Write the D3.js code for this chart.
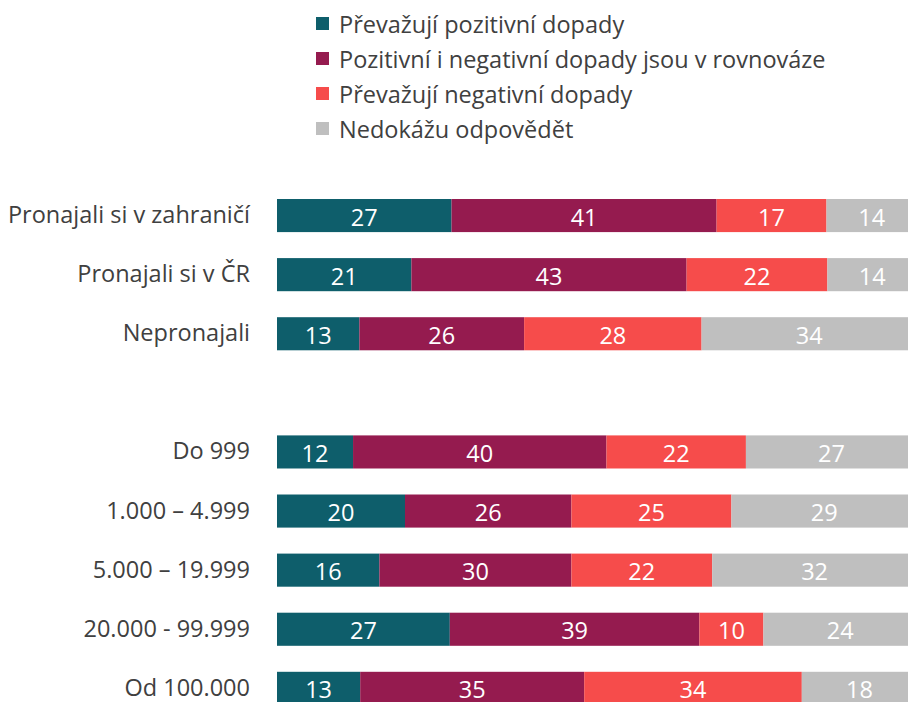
<!DOCTYPE html>
<html>
<head>
<meta charset="utf-8">
<script src="https://cdn.jsdelivr.net/npm/d3@7"></script>
<style>
  body { margin: 0; background: #fff; }
  svg { display: block; font-family: "Open Sans", "Noto Sans", sans-serif; }
</style>
</head>
<body>
<svg width="908" height="702"></svg>
<script>
// categories (blank entry = spacer row between the two groups)
const categories = [
  "Pronajali si v zahraničí",
  "Pronajali si v ČR",
  "Nepronajali",
  " ",
  "Do 999",
  "1.000 – 4.999",
  "5.000 – 19.999",
  "20.000 - 99.999",
  "Od 100.000",
];

const seriesNames = [
  "Převažují pozitivní dopady",
  "Pozitivní i negativní dopady jsou v rovnováze",
  "Převažují negativní dopady",
  "Nedokážu odpovědět",
];

const positive = [27, 21, 13, null, 12, 20, 16, 27, 13];
const balanced = [41, 43, 26, null, 40, 26, 30, 39, 35];
const negative = [17, 22, 28, null, 22, 25, 22, 10, 34];
const dontKnow = [14, 14, 34, null, 27, 29, 32, 24, 18];

const colors = ["#0e5e6b", "#951b4f", "#f64c4b", "#bfbfbf"];

const svg = d3.select("svg");
const fontSize = 23.5;
const dimensions = {
  left: 277,
  barWidth: 640,
  top: 186,
  step: 59.1,
};

// build rows
const rows = categories.map((c, i) => ({
  cat: c,
  values: [positive[i], balanced[i], negative[i], dontKnow[i]],
}));

const xScale = d3
  .scaleLinear()
  .domain([0, 1])
  .range([dimensions.left, dimensions.left + dimensions.barWidth]);

const yScale = d3
  .scaleBand()
  .domain(categories)
  .range([dimensions.top, dimensions.top + dimensions.step * categories.length])
  .paddingInner(0.44)
  .paddingOuter(0.22);

// stacked segments, normalised to the row total
const segments = [];
rows.forEach((r) => {
  if (r.values[0] == null) return;
  const total = d3.sum(r.values);
  let acc = 0;
  r.values.forEach((v, k) => {
    segments.push({ cat: r.cat, key: k, value: v, x0: acc / total, x1: (acc + v) / total });
    acc += v;
  });
});

const bars = svg.append("g");

bars
  .selectAll("rect")
  .data(segments)
  .enter()
  .append("rect")
  .attr("x", (d) => xScale(d.x0))
  .attr("width", (d) => xScale(d.x1) - xScale(d.x0))
  .attr("y", (d) => yScale(d.cat))
  .attr("height", yScale.bandwidth())
  .attr("fill", (d) => colors[d.key]);

bars
  .selectAll("text")
  .data(segments)
  .enter()
  .append("text")
  .attr("x", (d) => (xScale(d.x0) + xScale(d.x1)) / 2)
  .attr("y", (d) => yScale(d.cat) + yScale.bandwidth() / 2 + 1)
  .attr("text-anchor", "middle")
  .attr("dominant-baseline", "central")
  .attr("fill", "#fff")
  .attr("font-size", fontSize)
  .text((d) => d.value);

// category axis
const yAxis = svg
  .append("g")
  .attr("transform", `translate(${dimensions.left},0)`)
  .call(d3.axisLeft(yScale).tickSize(0).tickPadding(27));

yAxis.select(".domain").remove();
yAxis
  .selectAll("text")
  .attr("font-size", fontSize)
  .attr("font-family", "\"Open Sans\", \"Noto Sans\", sans-serif")
  .attr("fill", "#404040");

// legend
const legend = svg
  .append("g")
  .selectAll("g")
  .data(seriesNames)
  .enter()
  .append("g")
  .attr("transform", (d, i) => `translate(316,${24 + i * 35})`);

legend
  .append("rect")
  .attr("x", 0)
  .attr("y", -7)
  .attr("width", 13)
  .attr("height", 13)
  .attr("fill", (d, i) => colors[i]);

legend
  .append("text")
  .attr("x", 23)
  .attr("y", 0)
  .attr("dominant-baseline", "central")
  .attr("font-size", fontSize)
  .attr("fill", "#404040")
  .text((d) => d);
</script>
</body>
</html>
